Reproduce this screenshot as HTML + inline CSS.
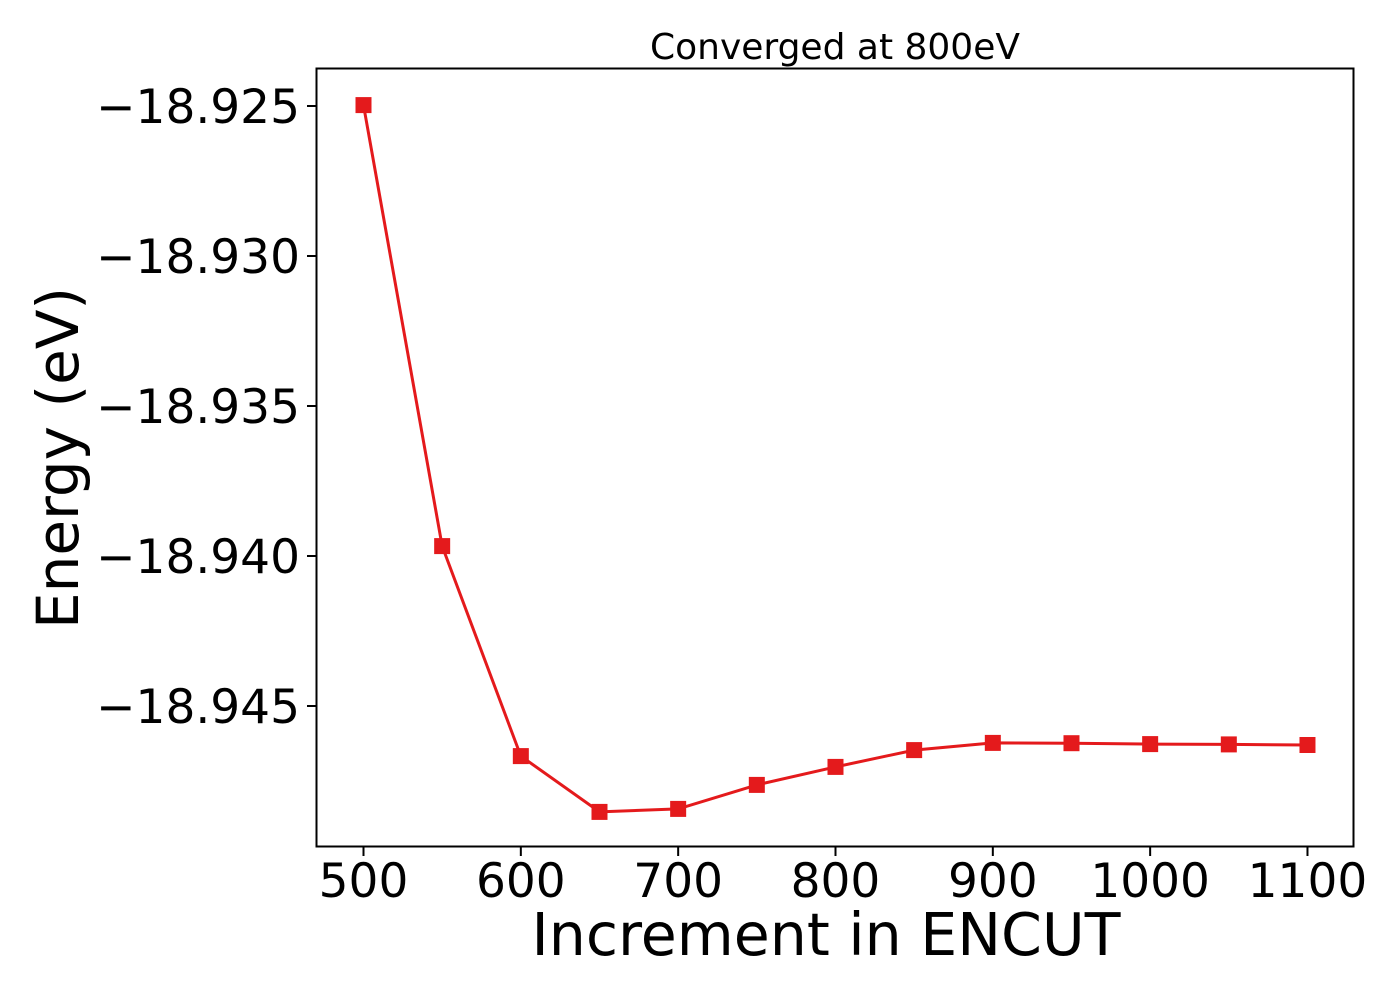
<!DOCTYPE html>
<html><head><meta charset="utf-8"><style>
body{margin:0;background:#fff;}
svg text{font-family:"DejaVu Sans","Liberation Sans",sans-serif;fill:#000;}
</style></head><body>
<svg id="chart" width="1400" height="1000" xmlns="http://www.w3.org/2000/svg">
<text x="835" y="59" font-size="36" text-anchor="middle">Converged at 800eV</text>
<text x="826" y="955" font-size="58.5" text-anchor="middle">Increment in ENCUT</text>
<text transform="translate(78,458) rotate(-90)" font-size="58" text-anchor="middle">Energy (eV)</text>
<g id="ticks"></g>
<g id="marks"></g>
<rect x="316.5" y="68.5" width="1037" height="778" fill="none" stroke="#000" stroke-width="2"/>
</svg>
<script>
const encut=[500,550,600,650,700,750,800,850,900,950,1000,1050,1100];
const energy=[-18.92497,-18.93967,-18.94667,-18.94853,-18.94843,-18.94763,-18.94703,-18.94647,-18.94623,-18.94624,-18.94627,-18.94628,-18.9463];
const xTicks=[500,600,700,800,900,1000,1100];
const yTicks=[-18.925,-18.930,-18.935,-18.940,-18.945];
const yTickLabels=["\u221218.925","\u221218.930","\u221218.935","\u221218.940","\u221218.945"];
const ns="http://www.w3.org/2000/svg";
function X(v){return 363.5+(v-500)*1.5733;}
function Y(v){return 106+(-18.925-v)/0.005*150;}
const tg=document.getElementById('ticks'),mg=document.getElementById('marks');
function mk(tag,at,p){const e=document.createElementNS(ns,tag);for(const k in at)e.setAttribute(k,at[k]);p.appendChild(e);return e;}
xTicks.forEach(t=>{
 const l=mk('line',{x1:X(t),x2:X(t),y1:847,y2:856,stroke:'#000','stroke-width':2},tg);
 
 
 const tx=mk('text',{x:X(t),y:897,'font-size':47,'text-anchor':'middle'},tg);tx.textContent=t;
 
 
});
yTicks.forEach((t,i)=>{
 const l=mk('line',{x1:307,x2:317,y1:Y(t),y2:Y(t),stroke:'#000','stroke-width':2},tg);
 
 
 const tx=mk('text',{x:300,y:Y(t)+17,'font-size':47,'text-anchor':'end'},tg);tx.textContent=yTickLabels[i];
 
 
});
const pl=mk('polyline',{points:encut.map((v,i)=>X(v)+','+Y(energy[i])).join(' '),fill:'none',stroke:'#e41a1c','stroke-width':3},mg);


encut.forEach((v,i)=>{
 const r=mk('rect',{x:X(v)-8,y:Y(energy[i])-8,width:16,height:16,fill:'#e41a1c'},mg);
 
 
});
</script>
</body></html>
